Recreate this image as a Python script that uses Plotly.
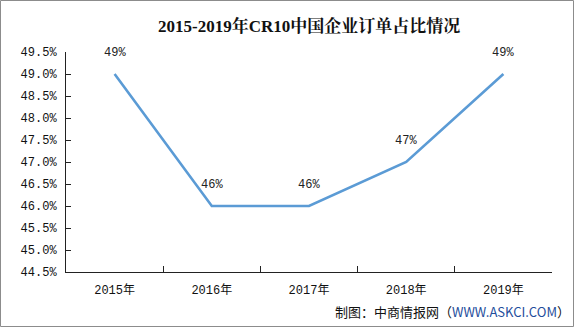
import plotly.graph_objects as go

categories = ["2015年", "2016年", "2017年", "2018年", "2019年"]
values = [49.0, 46.0, 46.0, 47.0, 49.0]
labels = ["49%", "46%", "46%", "47%", "49%"]
y_ticks = [44.5, 45.0, 45.5, 46.0, 46.5, 47.0, 47.5, 48.0, 48.5, 49.0, 49.5]
y_tick_text = ["%.1f%%" % v for v in y_ticks]

title = "2015-2019年CR10中国企业订单占比情况"
source = '制图：中商情报网（<span style="color:#1f4e9c">WWW.ASKCI.COM</span>）'

mono = "Liberation Mono, Noto Sans CJK SC, monospace"

fig = go.Figure()
fig.add_trace(go.Scatter(
    x=categories, y=values, mode="lines",
    line=dict(color="#5B9BD5", width=2.6),
    hoverinfo="skip", showlegend=False,
))

for c, v, t in zip(categories, values, labels):
    fig.add_annotation(x=c, y=v, text=t, showarrow=False, yshift=21,
                       font=dict(family=mono, size=12, color="#222"))

fig.add_annotation(xref="paper", yref="paper", x=0.5, y=1, yshift=38,
                   text="<b>" + title + "</b>", showarrow=False,
                   font=dict(family="Liberation Serif, Noto Serif CJK SC, Noto Sans CJK SC, serif",
                             size=17, color="#111"))

fig.add_annotation(xref="paper", yref="paper", x=1.0, xshift=20, y=0, yshift=-39,
                   xanchor="right", yanchor="middle",
                   text=source, showarrow=False,
                   font=dict(family="Noto Sans CJK SC, sans-serif", size=13, color="#111"))

W, H = 574, 327
ml, mr, mt, mb = 66, 22, 52, 55
pw, ph = W - ml - mr, H - mt - mb
fig.add_shape(type="rect", xref="paper", yref="paper",
              x0=(0.5 - ml) / pw, x1=(W - 0.5 - ml) / pw,
              y0=-(mb - 0.5) / ph, y1=(H - 0.5 - mb) / ph,
              line=dict(color="#8c8c8c", width=1), layer="below")

fig.update_layout(
    width=W, height=H,
    margin=dict(l=ml, r=mr, t=mt, b=mb),
    paper_bgcolor="white", plot_bgcolor="white",
    xaxis=dict(
        type="category", range=[-0.5, 4.5], tickson="boundaries",
        ticks="inside", ticklen=6, tickcolor="#222",
        showline=True, linecolor="#222", linewidth=1,
        showgrid=False, zeroline=False, ticklabelstandoff=7,
        tickfont=dict(family=mono, size=12, color="#111"),
        fixedrange=True,
    ),
    yaxis=dict(
        range=[44.5, 49.5], tickvals=y_ticks, ticktext=y_tick_text,
        ticks="inside", ticklen=5, tickcolor="#222",
        showline=True, linecolor="#222", linewidth=1,
        showgrid=False, zeroline=False, ticklabelstandoff=6,
        tickfont=dict(family=mono, size=12, color="#111"),
        fixedrange=True,
    ),
)

fig.write_html("out.html")
